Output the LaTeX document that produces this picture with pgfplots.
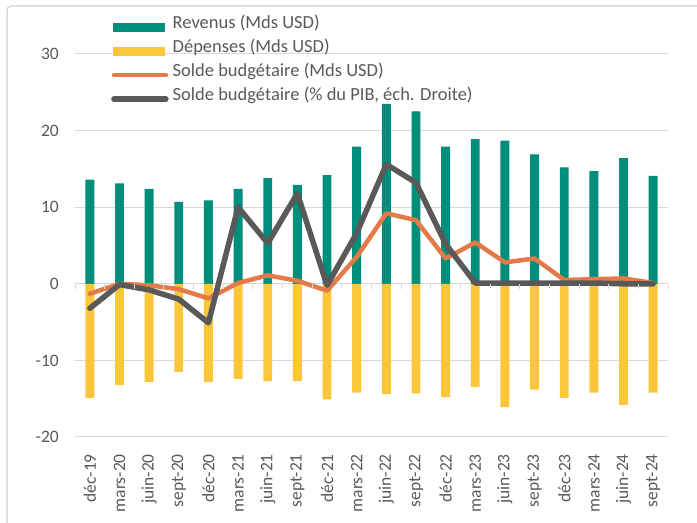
\documentclass[border=0pt]{standalone}
\usepackage{fontspec}
\setmainfont{Carlito}
\usepackage{pgfplots}
\pgfplotsset{compat=1.18}
\definecolor{revcol}{RGB}{0,142,124}
\definecolor{expcol}{RGB}{251,198,58}
\definecolor{balcol}{RGB}{228,122,73}
\definecolor{pctcol}{RGB}{89,89,89}
\definecolor{gridcol}{RGB}{217,217,217}
\definecolor{txtcol}{RGB}{89,89,89}
\begin{document}
\begin{tikzpicture}[x=1bp,y=1bp]
\useasboundingbox (0,0) rectangle (697,523);
\begin{scope}
\clip (0,0) rectangle (697,523);
\draw[gridcol, line width=1.5bp, rounded corners=4bp] (7,-20) rectangle (720,517);
\end{scope}
\begin{axis}[
  at={(75bp,86bp)}, anchor=south west,
  scale only axis, width=593bp, height=383bp,
  xmin=-0.5, xmax=19.5, ymin=-20, ymax=30,
  axis line style={draw=none},
  major tick length=0pt,
  ytick={-20,-10,0,10,20,30},
  yticklabels={-20,-10,0,10,20,30},
  ymajorgrids, grid style={gridcol, line width=1bp},
  xtick={0,...,19},
  xticklabels={déc-19,mars-20,juin-20,sept-20,déc-20,mars-21,juin-21,sept-21,déc-21,mars-22,juin-22,sept-22,déc-22,mars-23,juin-23,sept-23,déc-23,mars-24,juin-24,sept-24},
  tick label style={font=\fontsize{17.5bp}{20bp}\selectfont, text=txtcol, inner sep=0pt},
  x tick label style={rotate=90, anchor=east},
  xticklabel shift=17bp,
  yticklabel shift=16bp,
  clip=false,
  legend style={at={(rel axis cs:0.0607,1.102)}, anchor=north west, draw=none, fill=none,
    inner sep=0pt, font=\fontsize{18.5bp}{21bp}\selectfont, text=txtcol,
    nodes={inner sep=0pt, text height=13.2bp, text depth=10.8bp},
    column sep=4bp},
  legend cell align=left,
  after end axis/.code={
    \foreach \t in {-0.5,0.5,...,19.5}{\draw[gridcol,line width=1bp] (axis cs:\t,0) -- ++(0,-5bp);}
  },
]
\addplot[ybar, bar width=0.3, bar shift=0pt, fill=revcol, draw=none,
  legend image code/.code={\fill[revcol] (0bp,-4.5bp) rectangle (52bp,4.5bp);}]
  coordinates {(0,13.6)(1,13.1)(2,12.4)(3,10.7)(4,10.9)(5,12.4)(6,13.8)(7,12.9)(8,14.2)(9,17.9)(10,23.5)(11,22.5)(12,17.9)(13,18.9)(14,18.7)(15,16.9)(16,15.2)(17,14.7)(18,16.4)(19,14.1)};
\addlegendentry{Revenus (Mds USD)}
\addplot[ybar, bar width=0.3, bar shift=0pt, fill=expcol, draw=none,
  legend image code/.code={\fill[expcol] (0bp,-4.5bp) rectangle (52bp,4.5bp);}]
  coordinates {(0,-14.9)(1,-13.2)(2,-12.8)(3,-11.5)(4,-12.8)(5,-12.4)(6,-12.7)(7,-12.7)(8,-15.1)(9,-14.2)(10,-14.4)(11,-14.3)(12,-14.8)(13,-13.5)(14,-16.1)(15,-13.8)(16,-14.9)(17,-14.2)(18,-15.8)(19,-14.2)};
\addlegendentry{Dépenses (Mds USD)}
\addplot[balcol, line width=4.5bp, line join=round, line cap=round, mark=none,
  legend image code/.code={\draw[balcol, line width=4.5bp, line cap=round] (1bp,0) -- (53bp,0);}]
  coordinates {(0,-1.3)(1,0.0)(2,-0.2)(3,-0.7)(4,-1.9)(5,0.1)(6,1.1)(7,0.4)(8,-0.9)(9,3.5)(10,9.2)(11,8.3)(12,3.3)(13,5.4)(14,2.8)(15,3.3)(16,0.5)(17,0.6)(18,0.7)(19,0.1)};
\addlegendentry{Solde budgétaire (Mds USD)}
\addplot[pctcol, line width=5.5bp, line join=round, line cap=round, mark=none,
  legend image code/.code={\draw[pctcol, line width=5.5bp, line cap=round] (1bp,0) -- (53bp,0);}]
  coordinates {(0,-3.2)(1,-0.1)(2,-0.8)(3,-2.0)(4,-5.1)(5,10.0)(6,5.3)(7,11.8)(8,-0.2)(9,6.6)(10,15.6)(11,13.2)(12,5.2)(13,0.1)(14,0.1)(15,0.1)(16,0.1)(17,0.1)(18,0.0)(19,0.0)};
\addlegendentry{Solde budgétaire (\% du PIB, éch. Droite)}
\end{axis}
\end{tikzpicture}
\end{document}
